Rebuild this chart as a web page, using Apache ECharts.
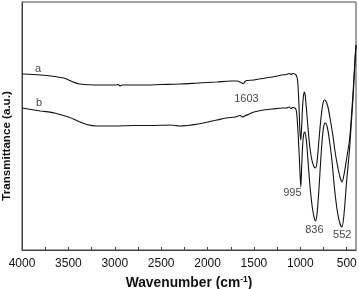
<!DOCTYPE html>
<html><head><meta charset="utf-8">
<script src="https://cdn.jsdelivr.net/npm/echarts@6/dist/echarts.min.js"></script>
<style>html,body{margin:0;padding:0;background:#fff}#c{width:359px;height:289px}</style>
</head><body><div id="c"></div>
<script>
// wavenumber (cm-1) and relative transmittance (a.u.)
const waveA = [4000,3800,3650,3550,3450,3380,3200,3000,2960,2945,2920,2700,2500,2300,2100,1900,1750,1680,1640,1615,1595,1580,1500,1450,1400,1350,1300,1250,1200,1150,1120,1100,1080,1060,1045,1030,1015,1005,995,985,975,965,957,948,935,920,900,880,860,840,825,810,790,770,755,742,725,705,680,650,620,590,570,550,530,500,470,452,430,410,400];
const transA = [176,175,173.5,172,168,166,165,165,165.5,164,165,165,165.5,166,167,168,169,169,167.5,166.5,168.5,169.5,170,171,171.5,172.5,173,174,175,175.5,176.5,175.5,176.5,176,175,170,145,120,110,125,145,155,158,155,142,125,105,92,85,82,85,98,120,138,147,150,149,144,132,115,95,80,72,68,75,92,110,130,160,192,205];
const waveB = [4000,3800,3650,3500,3400,3300,3200,3000,2800,2600,2400,2300,2100,1900,1800,1700,1650,1620,1600,1550,1500,1400,1300,1200,1150,1120,1100,1080,1060,1045,1035,1020,1005,995,985,975,965,955,945,930,910,890,870,850,836,820,800,780,760,745,730,710,690,660,630,600,575,552,530,500,470,452,430,410,400];
const transB = [142,139,137,133,129,125.5,124,124,124.5,124.5,125,124,126,130,132,133,134.5,133,134,136,138,140,141,142,142,143,141.5,142.5,142,140,132,110,80,63,85,105,115,118,116,105,80,58,42,32,29,36,60,90,115,125,127,123,112,90,60,38,27,23,35,70,100,125,155,190,205];
const xTickLabels = [4000,3500,3000,2500,2000,1500,1000,500];
const xMinorTicks = [4000,3750,3500,3250,3000,2750,2500,2250,2000,1750,1500,1250,1000,750,500];
const annotations = [
  {text:'a', wave:3828, value:181},
  {text:'b', wave:3817, value:147},
  {text:'1603', wave:1581, value:151},
  {text:'995', wave:1086, value:57},
  {text:'836', wave:849, value:20},
  {text:'552', wave:548, value:15}
];

const chart = echarts.init(document.getElementById('c'), null, {renderer:'canvas'});
const font = 'Liberation Sans, Arial, sans-serif';
const lineCol = '#111';
chart.setOption({
  animation:false,
  grid:{left:22, right:3, top:2, bottom:39, containLabel:false, outerBoundsMode:'none',
        show:true, borderColor:'#444', borderWidth:1},
  xAxis:{
    type:'value', inverse:true, min:400, max:4000,
    axisLine:{show:true, lineStyle:{color:'#444', width:1}},
    axisTick:{show:true, inside:true, length:3, customValues:xMinorTicks, lineStyle:{color:'#444'}},
    axisLabel:{show:true, customValues:xTickLabels, formatter:v=>String(v), color:'#111', fontSize:12, fontFamily:font, margin:8},
    splitLine:{show:false},
    name:'{n|Wavenumber (cm}{s|-1}{n|)}', nameLocation:'middle', nameGap:22,
    nameTextStyle:{rich:{
      n:{fontSize:13.8, fontWeight:'bold', fontFamily:font, color:'#111'},
      s:{fontSize:8.5, fontWeight:'bold', fontFamily:font, color:'#111', padding:[0,0,8,0]}
    }}
  },
  yAxis:{
    type:'value', min:0, max:248,
    axisLine:{show:true, lineStyle:{color:'#444', width:1}},
    axisTick:{show:false}, axisLabel:{show:false}, splitLine:{show:false},
    name:'Transmittance (a.u.)', nameLocation:'middle', nameGap:9, nameRotate:90,
    nameTextStyle:{fontSize:11.6, fontWeight:'bold', fontFamily:font, color:'#111', padding:[0,40,0,0]}
  },
  series:[
    {type:'line', data:waveA.map((w,i)=>[w,transA[i]]), showSymbol:false, smooth:0.3,
     lineStyle:{color:lineCol, width:1.1}, clip:true},
    {type:'line', data:waveB.map((w,i)=>[w,transB[i]]), showSymbol:false, smooth:0.3,
     lineStyle:{color:lineCol, width:1.1}, clip:true},
    {type:'scatter', symbolSize:0, silent:true,
     data:annotations.map(a=>({name:a.text, value:[a.wave,a.value]})),
     label:{show:true, position:'inside', formatter:p=>p.name, color:'#111', fontSize:11, fontFamily:font}}
  ]
});
</script></body></html>
